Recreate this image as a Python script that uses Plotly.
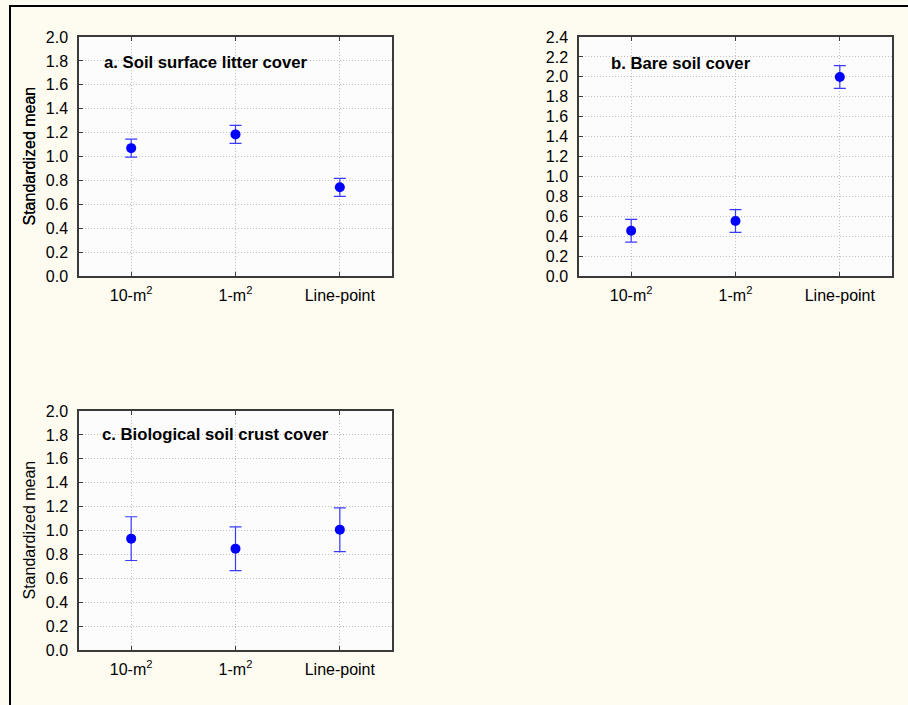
import plotly.graph_objects as go

# Sampling-method categories (x axis) and standardized means with error half-widths
categories = ["10-m<sup>2</sup>", "1-m<sup>2</sup>", "Line-point"]

litter_mean = [1.07, 1.185, 0.742]
litter_err = [0.075, 0.076, 0.075]

bare_mean = [0.455, 0.552, 1.998]
bare_err = [0.114, 0.114, 0.114]

crust_mean = [0.932, 0.848, 1.007]
crust_err = [0.183, 0.183, 0.183]

panel_titles = [
    "a. Soil surface litter cover",
    "b. Bare soil cover",
    "c. Biological soil crust cover",
]
y_tick_values_a = [round(0.2 * i, 1) for i in range(11)]
y_tick_values_b = [round(0.2 * i, 1) for i in range(13)]

W, H = 908, 705
FONT = "Liberation Sans, Arial, sans-serif"
PAPER = "#fefbf0"
PLOT_BG = "#fcfcfc"
AXIS = "#3a3a3a"
GRID = "#c0c0c0"
BLUE = "#0000ff"
ERR = "#3a3aff"


def px_x(p):
    return p / W


def px_y(p):
    return 1 - p / H


# Panel frames in pixels: (left, right, top, bottom)
frames = [
    (79, 392, 37, 276),
    (579, 892, 37, 276),
    (79, 392, 411, 650),
]
series = [
    (litter_mean, litter_err, [0, 2.0], y_tick_values_a, 1.79, 0.073),
    (bare_mean, bare_err, [0, 2.4], y_tick_values_b, 2.13, 0.096),
    (crust_mean, crust_err, [0, 2.0], y_tick_values_a, 1.80, 0.067),
]

fig = go.Figure()
layout = dict(
    width=W,
    height=H,
    autosize=False,
    margin=dict(l=0, r=0, t=0, b=0, pad=0),
    paper_bgcolor=PAPER,
    plot_bgcolor=PLOT_BG,
    showlegend=False,
    font=dict(family=FONT, size=16, color="#000000"),
    annotations=[],
    shapes=[],
)

x_pos = list(range(len(categories)))

for i, ((l, r, t, b), (mean, err, yrange, yticks, title_y, title_x)) in enumerate(zip(frames, series)):
    n = i + 1
    xa = "x" if n == 1 else f"x{n}"
    ya = "y" if n == 1 else f"y{n}"
    xkey = "xaxis" if n == 1 else f"xaxis{n}"
    ykey = "yaxis" if n == 1 else f"yaxis{n}"
    rkey = f"yaxis{n + 3}"  # overlay axis carrying the right-hand minor ticks

    fig.add_trace(go.Scatter(
        x=x_pos, y=mean, xaxis=xa, yaxis=ya, mode="markers",
        marker=dict(color=BLUE, size=10, line=dict(width=0)),
        error_y=dict(type="data", array=err, visible=True, color=ERR, thickness=1.2, width=6),
        hoverinfo="skip",
    ))

    layout[xkey] = dict(
        domain=[px_x(l), px_x(r)], anchor=ya, range=[-0.5, 2.5],
        tickmode="array", tickvals=x_pos, ticktext=categories,
        ticks="inside", ticklen=4, tickcolor=AXIS, tickwidth=1,
        showline=True, linecolor=AXIS, linewidth=1.5, mirror="ticks",
        showgrid=True, gridcolor=GRID, griddash="1px,2px", gridwidth=1,
        zeroline=False, ticklabelstandoff=4, automargin=False,
        tickfont=dict(family=FONT, size=16, color="#000000"),
        fixedrange=True,
    )
    layout[ykey] = dict(
        domain=[px_y(b), px_y(t)], anchor=xa, range=yrange,
        tickmode="array", tickvals=yticks, ticktext=[f"{v:.1f}" for v in yticks],
        ticks="inside", ticklen=4, tickcolor=AXIS, tickwidth=1,
        showline=True, linecolor=AXIS, linewidth=1.5, mirror=True,
        showgrid=True, gridcolor=GRID, griddash="1px,2px", gridwidth=1,
        zeroline=False, ticklabelstandoff=6, automargin=False,
        tickfont=dict(family=FONT, size=16, color="#000000"),
        fixedrange=True,
    )
    layout[rkey] = dict(
        domain=[px_y(b), px_y(t)], anchor=xa, overlaying=ya, side="right",
        range=[0, 8], tickmode="linear", tick0=0, dtick=1,
        ticks="inside", ticklen=4, tickcolor=AXIS, tickwidth=1.2,
        showticklabels=False, showgrid=False, zeroline=False,
        showline=True, linecolor="#808080", linewidth=1.5,
        automargin=False, fixedrange=True,
    )

    layout["annotations"].append(dict(
        text=f"<b>{panel_titles[i]}</b>", xref=f"{xa} domain", yref=ya,
        x=title_x, y=title_y, xanchor="left", yanchor="middle", showarrow=False,
        font=dict(family=FONT, size=16.7, color="#000000"),
    ))
    layout["annotations"].append(dict(
        text="Standardized mean", xref="paper", yref="paper",
        x=px_x(29), y=px_y((t + b) / 2), xanchor="center", yanchor="middle",
        textangle=-90, showarrow=False,
        font=dict(family=FONT, size=16, color="#000000"),
    ))

# Heavy black frame along the left and top edges of the page
layout["shapes"] += [
    dict(type="line", xref="paper", yref="paper", x0=px_x(10), x1=px_x(10),
         y0=px_y(6), y1=px_y(H + 5), line=dict(color="#000000", width=2)),
    dict(type="line", xref="paper", yref="paper", x0=px_x(9), x1=px_x(W + 5),
         y0=px_y(6), y1=px_y(6), line=dict(color="#000000", width=2)),
]

fig.update_layout(**layout)
fig.write_html("out.html")
